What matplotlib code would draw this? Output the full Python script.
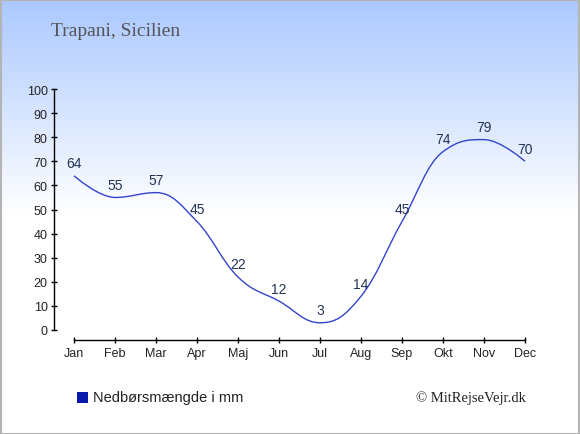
import numpy as np
import matplotlib
matplotlib.use("Agg")
import matplotlib.pyplot as plt
from matplotlib.path import Path
from matplotlib.patches import PathPatch, Rectangle

months = ["Jan", "Feb", "Mar", "Apr", "Maj", "Jun", "Jul", "Aug", "Sep", "Okt", "Nov", "Dec"]
precip = [64, 55, 57, 45, 22, 12, 3, 14, 45, 74, 79, 70]
yticks = [0, 10, 20, 30, 40, 50, 60, 70, 80, 90, 100]
title = "Trapani, Sicilien"
legend_label = "Nedbørsmængde i mm"
credit = "© MitRejseVejr.dk"

W, H = 580, 435
fig = plt.figure(figsize=(W / 100, H / 100), dpi=100)

# gradient background
bg = fig.add_axes([0, 0, 1, 1], zorder=0)
bg.set_axis_off()
rows = np.linspace(0, 1, H)
top = np.array([170, 200, 255]) / 255.0
white = np.array([1.0, 1.0, 1.0])
frac = np.clip(rows * H / 215.0, 0, 1)
grad = top[None, :] * (1 - frac[:, None]) + white[None, :] * frac[:, None]
img = np.repeat(grad[:, None, :], 2, axis=1)
bg.imshow(img, aspect="auto", extent=[0, 1, 0, 1], origin="upper")
bg.set_xlim(0, 1)
bg.set_ylim(0, 1)
bg.add_patch(Rectangle((0.001, 0.001), 0.997, 0.996, transform=bg.transAxes,
                       fill=False, edgecolor="#b4b4b4", linewidth=1.5))

# main axes
x0, x1 = 54, 525
yb, yt = 341, 90
ax = fig.add_axes([x0 / W, (H - yb) / H, (x1 - x0) / W, (yb - yt) / H], zorder=1)
ax.patch.set_alpha(0)
ax.set_xlim(-20 / 41.0, 11)
ax.set_ylim(-10 / 2.41, 100)
for s in ["top", "right"]:
    ax.spines[s].set_visible(False)
ax.spines["left"].set_bounds(0, 100)
ax.spines["bottom"].set_bounds(0, 11)
for s in ["left", "bottom"]:
    ax.spines[s].set_color("black")
    ax.spines[s].set_linewidth(1.0)
ax.set_xticks(range(len(months)))
ax.set_xticklabels(months)
ax.set_yticks(yticks)
ax.set_yticklabels([str(v) for v in yticks])
ax.tick_params(axis="both", direction="inout", length=4, width=1.0, color="black",
               labelsize=9, labelcolor="#222222")
ax.tick_params(axis="y", pad=2.5)
ax.tick_params(axis="x", pad=3)
for lab in ax.get_xticklabels() + ax.get_yticklabels():
    lab.set_fontfamily("Liberation Sans")

# Highcharts-like spline
xs = np.arange(len(precip), dtype=float)
ys = np.array(precip, dtype=float)
n = len(xs)
sm = 1.5
den = sm + 1
lc = [None] * n
rc = [None] * n
for i in range(n):
    px, py = xs[i], ys[i]
    if i == 0 or i == n - 1:
        lc[i] = (px, py)
        rc[i] = (px, py)
        continue
    lx, ly = xs[i - 1], ys[i - 1]
    nx, ny = xs[i + 1], ys[i + 1]
    lcx = (sm * px + lx) / den
    lcy = (sm * py + ly) / den
    rcx = (sm * px + nx) / den
    rcy = (sm * py + ny) / den
    corr = 0.0
    if rcx != lcx:
        corr = (rcy - lcy) * (rcx - px) / (rcx - lcx) + py - rcy
    lcy += corr
    rcy += corr
    if lcy > ly and lcy > py:
        lcy = max(ly, py); rcy = 2 * py - lcy
    elif lcy < ly and lcy < py:
        lcy = min(ly, py); rcy = 2 * py - lcy
    if rcy > ny and rcy > py:
        rcy = max(ny, py); lcy = 2 * py - rcy
    elif rcy < ny and rcy < py:
        rcy = min(ny, py); lcy = 2 * py - rcy
    lc[i] = (lcx, lcy)
    rc[i] = (rcx, rcy)

verts = [(xs[0], ys[0])]
codes = [Path.MOVETO]
for i in range(1, n):
    verts += [rc[i - 1], lc[i], (xs[i], ys[i])]
    codes += [Path.CURVE4] * 3
path = Path(verts, codes)
ax.add_patch(PathPatch(path, facecolor="none", edgecolor="#3344cc", linewidth=1.0,
                       transform=ax.transData, clip_on=False))

for x, v in zip(xs, precip):
    ax.annotate(str(v), (x, v), xytext=(0, 9), textcoords="offset points",
                ha="center", va="center", fontsize=10, color="#223355",
                fontfamily="Liberation Sans")

# title
fig.text(51 / W, 1 - 32 / H, title, fontsize=14, color="#555558",
         fontfamily="Liberation Serif", ha="left", va="center")

# legend
fig.patches.append(Rectangle((77 / W, 1 - 404 / H), 11 / W, 11 / H,
                             transform=fig.transFigure, facecolor="#0a1aaa",
                             edgecolor="none", figure=fig, zorder=3))
fig.text(93 / W, 1 - 398 / H, legend_label, fontsize=10.5, color="#222222",
         fontfamily="Liberation Sans", ha="left", va="center")

# credit
fig.text(526 / W, 1 - 398 / H, credit, fontsize=10.5, color="#222222",
         fontfamily="Liberation Serif", ha="right", va="center")

fig.savefig("out.png", dpi=100)
